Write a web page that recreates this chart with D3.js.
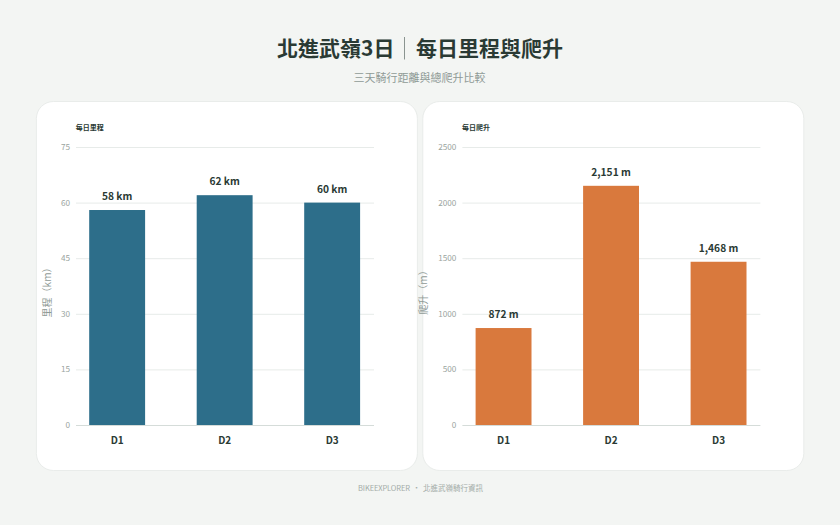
<!DOCTYPE html>
<html><head><meta charset="utf-8">
<script src="https://cdn.jsdelivr.net/npm/d3@7"></script>
<style>html,body{margin:0;padding:0;background:#f3f5f3}svg{display:block}
text{font-family:"Noto Sans CJK TC","Noto Sans",sans-serif}</style></head>
<body><svg id="c" width="840" height="525"></svg>
<script>
const days=["D1","D2","D3"];
const distance=[58,62,60];
const climb=[872,2151,1468];
const distanceTicks=[0,15,30,45,60,75];
const climbTicks=[0,500,1000,1500,2000,2500];
const svg=d3.select("#c");
const ink="#2a3a34",muted="#8f9a96";
svg.append("text").attr("x",277).attr("y",56).attr("font-size",21).attr("font-weight",700).attr("fill",ink).text("北進武嶺3日");
svg.append("line").attr("x1",404.5).attr("x2",404.5).attr("y1",37).attr("y2",59.5).attr("stroke","#8a9490").attr("stroke-width",1);
svg.append("text").attr("x",416).attr("y",56).attr("font-size",21).attr("font-weight",700).attr("fill",ink).text("每日里程與爬升");
svg.append("text").attr("x",419.5).attr("y",81.5).attr("text-anchor","middle").attr("font-size",11).attr("fill",muted).text("三天騎行距離與總爬升比較");
const foot=svg.append("g").attr("font-size",7.5).attr("fill","#a3aca8");
foot.append("text").attr("x",358).attr("y",490.5).attr("textLength",52).text("BIKEEXPLORER");
foot.append("text").attr("x",416.5).attr("y",490.5).attr("text-anchor","middle").text("•");
foot.append("text").attr("x",423).attr("y",490.5).text("北進武嶺騎行資訊");
function panel(dx,title,yTitleX,yTitle,values,ticks,color,fmt){
  const g=svg.append("g").attr("transform",`translate(${dx},0)`);
  g.append("rect").attr("x",36.4).attr("y",101.5).attr("width",381).attr("height",369).attr("rx",17).attr("fill","#fff").attr("stroke","#e9ecea");
  g.append("text").attr("x",75.7).attr("y",130).attr("font-size",7).attr("font-weight",700).attr("fill",ink).text(title);
  const y=d3.scaleLinear().domain([0,ticks[ticks.length-1]]).range([425,147]);
  const x=d3.scaleBand().domain(days).range([63.4,385.9]).paddingInner(0.48).paddingOuter(0.24);
  g.selectAll(".grid").data(ticks).join("line").attr("x1",76).attr("x2",374)
    .attr("y1",d=>y(d)+.5).attr("y2",d=>y(d)+.5).attr("stroke",d=>d===0?"#d5dcd9":"#e7ebe9");
  g.selectAll(".ytick").data(ticks).join("text").attr("x",70).attr("y",d=>y(d)+3).attr("text-anchor","end")
    .attr("font-size",8.2).attr("fill","#9aa4a0").text(d=>d);
  g.selectAll(".bar").data(values).join("rect").attr("x",(d,i)=>x(days[i])).attr("width",x.bandwidth())
    .attr("y",d=>y(d)).attr("height",d=>425-y(d)).attr("fill",color);
  g.selectAll(".val").data(values).join("text").attr("x",(d,i)=>x(days[i])+x.bandwidth()/2).attr("y",d=>y(d)-10)
    .attr("text-anchor","middle").attr("font-size",10.2).attr("font-weight",700).attr("fill",ink).text(fmt);
  g.selectAll(".xl").data(days).join("text").attr("x",d=>x(d)+x.bandwidth()/2).attr("y",443.5)
    .attr("text-anchor","middle").attr("font-size",10).attr("font-weight",700).attr("fill",ink).text(d=>d);
  g.append("text").attr("transform",`translate(${yTitleX},290) rotate(-90)`).attr("text-anchor","middle")
    .attr("font-size",10).attr("fill","#8f9a96").text(yTitle);
}
panel(0,"每日里程",50.5,"里程（km）",distance,distanceTicks,"#2d6e8a",d=>d+" km");
panel(386.4,"每日爬升",41,"爬升（m）",climb,climbTicks,"#d9793d",d=>d3.format(",")(d)+" m");
</script></body></html>
